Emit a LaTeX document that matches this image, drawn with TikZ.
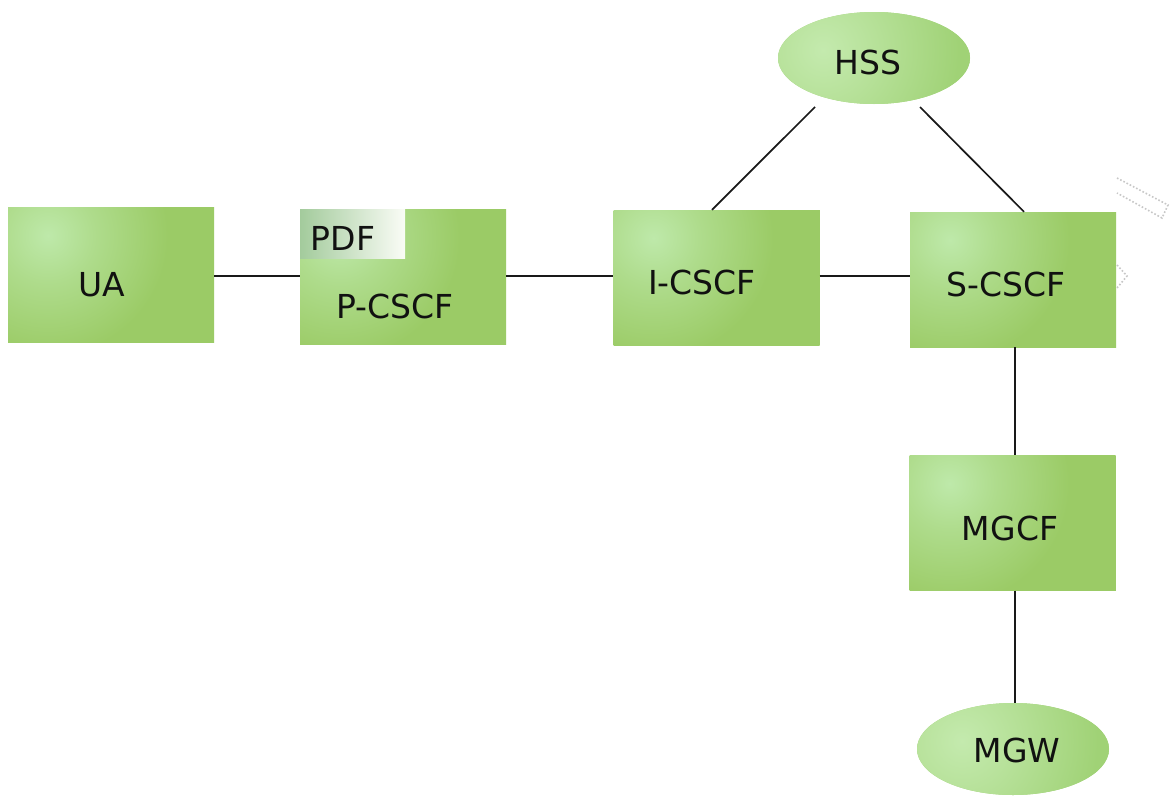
\documentclass[tikz,border=0pt]{standalone}
\usepackage{fontspec}
\setmainfont{DejaVu Sans}
\usetikzlibrary{shapes.geometric}

\definecolor{gbase}{HTML}{9BCB66}
\definecolor{glight}{HTML}{BEE9AA}
\definecolor{ebase}{HTML}{A0D276}
\definecolor{elight}{HTML}{C4EAAE}
\definecolor{pdfleft}{HTML}{A3CB9C}
\definecolor{pdfright}{HTML}{FAFCF6}
\definecolor{txt}{HTML}{111111}

% soft glow that settles into the base colour well inside the disc
\pgfdeclareradialshading{boxglow}{\pgfpoint{0bp}{0bp}}{%
  color(0bp)=(glight); color(6bp)=(glight!55!gbase); color(15bp)=(gbase); color(50bp)=(gbase)}
\pgfdeclareradialshading{ovalglow}{\pgfpoint{0bp}{0bp}}{%
  color(0bp)=(elight); color(7bp)=(elight!60!ebase); color(17bp)=(ebase); color(50bp)=(ebase)}

\tikzset{
  unitbox/.style={rectangle, fill=gbase, draw=none, minimum width=206pt, minimum height=135pt,
    inner sep=0pt,
    path picture={
      \shade[shading=boxglow]
        (path picture bounding box.north west) ++(40pt,-28pt) circle (200pt);
    }},
  unitoval/.style={ellipse, fill=ebase, draw=none, minimum width=192pt, minimum height=92pt,
    inner sep=0pt,
    path picture={
      \shade[shading=ovalglow]
        (path picture bounding box.west) ++(45pt,8pt) circle (200pt);
    }},
  pdftag/.style={rectangle, draw=none, minimum width=105pt, minimum height=49pt,
    inner sep=0pt,
    path picture={
      \shade[left color=pdfleft, right color=pdfright]
        (path picture bounding box.south west) rectangle (path picture bounding box.north east);
    }},
  lbl/.style={inner sep=0pt, text=txt, font=\fontsize{33}{39}\selectfont},
  link/.style={draw=black!90, line width=1.7pt},
  ghost/.style={draw=black!22, line width=1.6pt, dotted}
}

\begin{document}
\begin{tikzpicture}[x=1pt,y=-1pt]
\useasboundingbox (0,0) rectangle (1170,798);
\fill[white] (0,0) rectangle (1170,798);

% functional units
\node[unitbox] (ua)    at (111,275)    {};
\node[unitbox] (pcscf) at (403,277)    {};
\node[unitbox] (icscf) at (716.5,277.5) {};
\node[unitbox] (scscf) at (1013,279.5) {};
\node[unitbox] (mgcf)  at (1012.5,523) {};
\node[unitoval] (hss)  at (874,58)     {};
\node[unitoval] (mgw)  at (1013,749)   {};
\node[pdftag, anchor=north west] (pdf) at (pcscf.north west) {};

% names
\node[lbl] (uaT)    at (102,284.5) {UA};
\node[lbl] (pdfT)   at (343,238)   {PDF};
\node[lbl] (pcscfT) at (395,306)   {P-CSCF};
\node[lbl] (icscfT) at (702,282)   {I-CSCF};
\node[lbl] (scscfT) at (1006,284)  {S-CSCF};
\node[lbl] (hssT)   at (868,62)    {HSS};
\node[lbl] (mgcfT)  at (1010,528)  {MGCF};
\node[lbl] (mgwT)   at (1017,750)  {MGW};

% interfaces
\draw[link] (ua.east |- 0,276) -- (pcscf.west |- 0,276);
\draw[link] (pcscf.east |- 0,276) -- (icscf.west |- 0,276);
\draw[link] (icscf.east |- 0,276) -- (scscf.west |- 0,276);
\draw[link] (icscf.north -| 712,0) -- (815,107);
\draw[link] (scscf.north -| 1024,0) -- (920,107);
\draw[link] (scscf.south -| 1015,0) -- (mgcf.north -| 1015,0);
\draw[link] (mgcf.south -| 1015,0) -- (mgw.north -| 1015,0);

% faint outline at the right edge
\draw[ghost] (1117,178) -- (1168,205) -- (1162,218) -- (1117,193);
\draw[ghost] (1117,265) -- (1127,276) -- (1117,288);
\end{tikzpicture}
\end{document}
